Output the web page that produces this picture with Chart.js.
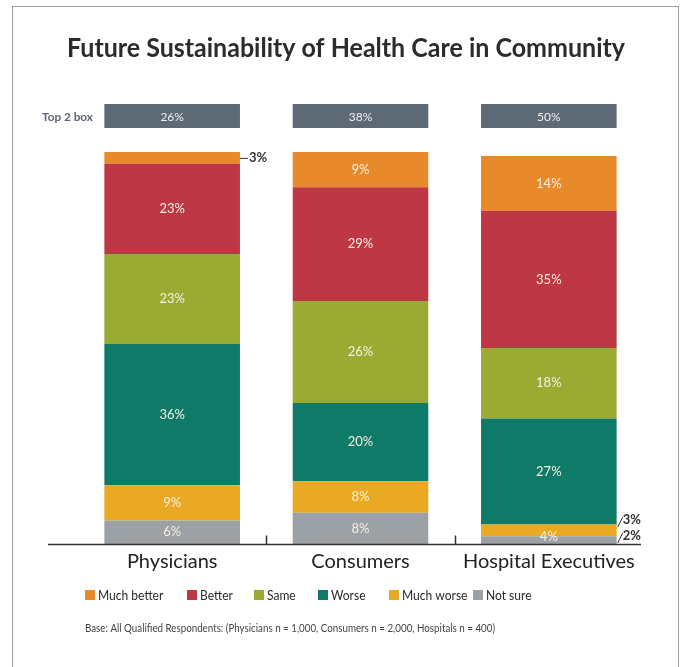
<!DOCTYPE html>
<html>
<head>
<meta charset="utf-8">
<script src="https://cdn.jsdelivr.net/npm/chart.js@4/dist/chart.umd.min.js"></script>
<style>
  html, body { margin: 0; padding: 0; background: #fff; }
  #wrap { width: 688px; height: 667px; position: relative; }
</style>
</head>
<body>
<div id="wrap"><canvas id="sustainChart"></canvas></div>
<script>
// categories and series (percent of respondents)
const categories = ['Physicians', 'Consumers', 'Hospital Executives'];
const muchBetter = [3, 9, 14];
const better = [23, 29, 35];
const same = [23, 26, 18];
const worse = [36, 20, 27];
const muchWorse = [9, 8, 3];
const notSure = [6, 8, 2];
const top2Box = ['26%', '38%', '50%'];

// labels printed inside each segment (null = too small, printed outside instead)
const muchBetterIn = [null, '9%', '14%'];
const betterIn = ['23%', '29%', '35%'];
const sameIn = ['23%', '26%', '18%'];
const worseIn = ['36%', '20%', '27%'];
const muchWorseIn = ['9%', '8%', null];
const notSureIn = ['6%', '8%', '4%'];
// labels printed beside the bar
const muchBetterOut = ['3%', null, null];
const muchWorseOut = [null, null, '3%'];
const notSureOut = [null, null, '2%'];

const ctx = document.getElementById('sustainChart').getContext('2d');

// bottom of the stack first
const datasets = [
  { label: 'Not sure', data: notSure, backgroundColor: '#9ba1a5', inLabels: notSureIn, outLabels: notSureOut },
  { label: 'Much worse', data: muchWorse, backgroundColor: '#e9a922', inLabels: muchWorseIn, outLabels: muchWorseOut },
  { label: 'Worse', data: worse, backgroundColor: '#0f7a67', inLabels: worseIn },
  { label: 'Same', data: same, backgroundColor: '#9baa33', inLabels: sameIn },
  { label: 'Better', data: better, backgroundColor: '#bd3745', inLabels: betterIn },
  { label: 'Much better', data: muchBetter, backgroundColor: '#e98a2a', inLabels: muchBetterIn, outLabels: muchBetterOut }
];

const FONT = 'Lato, "Open Sans", sans-serif';

// draw text squeezed horizontally (the source uses a condensed face)
function squeezeText(c, text, x, y, k, align) {
  c.save();
  c.translate(x, y);
  c.scale(k, 1);
  c.textAlign = align;
  c.fillText(text, 0, 0);
  c.restore();
}
function fitText(c, text, x, y, width, align) {
  const w = c.measureText(text).width;
  squeezeText(c, text, x, y, Math.min(1, width / w), align);
}

const decorations = {
  id: 'decorations',
  beforeDraw(chart) {
    const c = chart.ctx;
    c.save();
    c.fillStyle = '#fff';
    c.fillRect(0, 0, chart.width, chart.height);
    c.strokeStyle = '#a0a0a0';
    c.lineWidth = 1;
    c.strokeRect(12.5, 6.5, 666, 700);
    c.restore();
  },
  afterDraw(chart) {
    const c = chart.ctx;
    const area = chart.chartArea;
    const xs = chart.scales.x;
    c.save();

    // title
    c.fillStyle = '#2b2b2b';
    c.font = 'bold 26px ' + FONT;
    c.textBaseline = 'alphabetic';
    fitText(c, 'Future Sustainability of Health Care in Community', 346, 57, 558, 'center');

    // top 2 box row
    const topMeta = chart.getDatasetMeta(datasets.length - 1);
    c.textBaseline = 'middle';
    c.fillStyle = '#5b6678';
    c.font = 'bold 12px ' + FONT;
    fitText(c, 'Top 2 box', 42, 117, 51, 'left');
    topMeta.data.forEach((bar, i) => {
      c.fillStyle = '#5d6975';
      c.fillRect(bar.x - bar.width / 2, 104, bar.width, 24);
      c.fillStyle = '#f2f2f2';
      c.font = '12px ' + FONT;
      c.textAlign = 'center';
      c.fillText(top2Box[i], bar.x, 117);
    });

    // labels inside and beside the segments
    chart.data.datasets.forEach((ds, di) => {
      const meta = chart.getDatasetMeta(di);
      meta.data.forEach((bar, i) => {
        const h = Math.abs(bar.base - bar.y);
        const cy = (bar.y + bar.base) / 2;
        if (ds.inLabels && ds.inLabels[i]) {
          c.fillStyle = '#f7efe3';
          c.font = '13px ' + FONT;
          c.textAlign = 'center';
          c.fillText(ds.inLabels[i], bar.x, h < 14 ? bar.base - 7 : cy);
        }
        if (ds.outLabels && ds.outLabels[i]) {
          const right = bar.x + bar.width / 2;
          c.strokeStyle = '#333';
          c.lineWidth = 1;
          c.fillStyle = '#333';
          c.font = 'bold 13px ' + FONT;
          c.textAlign = 'left';
          c.beginPath();
          if (ds.label === 'Much better') {
            c.moveTo(right, cy + 0.5);
            c.lineTo(right + 8, cy + 0.5);
            c.stroke();
            c.fillText(ds.outLabels[i], right + 9, cy);
          } else {
            const ty = ds.label === 'Much worse' ? cy - 10 : cy - 4;
            c.moveTo(right + 1, ty + 7);
            c.lineTo(right + 6, ty - 3);
            c.stroke();
            c.fillText(ds.outLabels[i], right + 6, ty);
          }
        }
      });
    });

    // baseline with ticks between categories
    const by = area.bottom + 0.5;
    c.strokeStyle = '#333';
    c.lineWidth = 1.5;
    c.beginPath();
    c.moveTo(48, by);
    c.lineTo(641, by);
    for (let i = 0; i < categories.length - 1; i++) {
      const tx = Math.round((xs.getPixelForValue(i) + xs.getPixelForValue(i + 1)) / 2) + 0.5;
      c.moveTo(tx, by);
      c.lineTo(tx, by - 9);
    }
    c.stroke();

    // legend (top of stack first)
    const legendX = [85, 187, 254, 318, 389, 473];
    const ly = 595;
    c.font = '14px ' + FONT;
    c.textBaseline = 'middle';
    chart.data.datasets.slice().reverse().forEach((ds, k) => {
      c.fillStyle = ds.backgroundColor;
      c.fillRect(legendX[k], ly - 5, 10, 10);
      c.fillStyle = '#2a2a2a';
      squeezeText(c, ds.label, legendX[k] + 13, ly, 0.86, 'left');
    });

    // footnote
    c.fillStyle = '#444';
    c.font = '11px ' + FONT;
    fitText(c, 'Base: All Qualified Respondents: (Physicians n = 1,000, Consumers n = 2,000, Hospitals n = 400)', 85, 628, 410, 'left');

    c.restore();
  }
};

const chart = new Chart(ctx, {
  type: 'bar',
  data: { labels: categories, datasets: datasets },
  options: {
    responsive: true,
    maintainAspectRatio: false,
    animation: false,
    layout: { padding: { top: 152, bottom: 83, left: 78, right: 45 } },
    datasets: { bar: { barPercentage: 0.72, categoryPercentage: 1, borderWidth: 0 } },
    scales: {
      x: {
        stacked: true,
        grid: { display: false, drawTicks: false },
        border: { display: false },
        ticks: { color: '#222', font: { family: FONT, size: 20 }, padding: 6 },
        afterFit: (s) => { s.height = 40; }
      },
      y: { stacked: true, min: 0, max: 100, display: false }
    },
    plugins: {
      legend: { display: false },
      tooltip: { enabled: false }
    }
  },
  plugins: [decorations]
});
</script>
</body>
</html>
